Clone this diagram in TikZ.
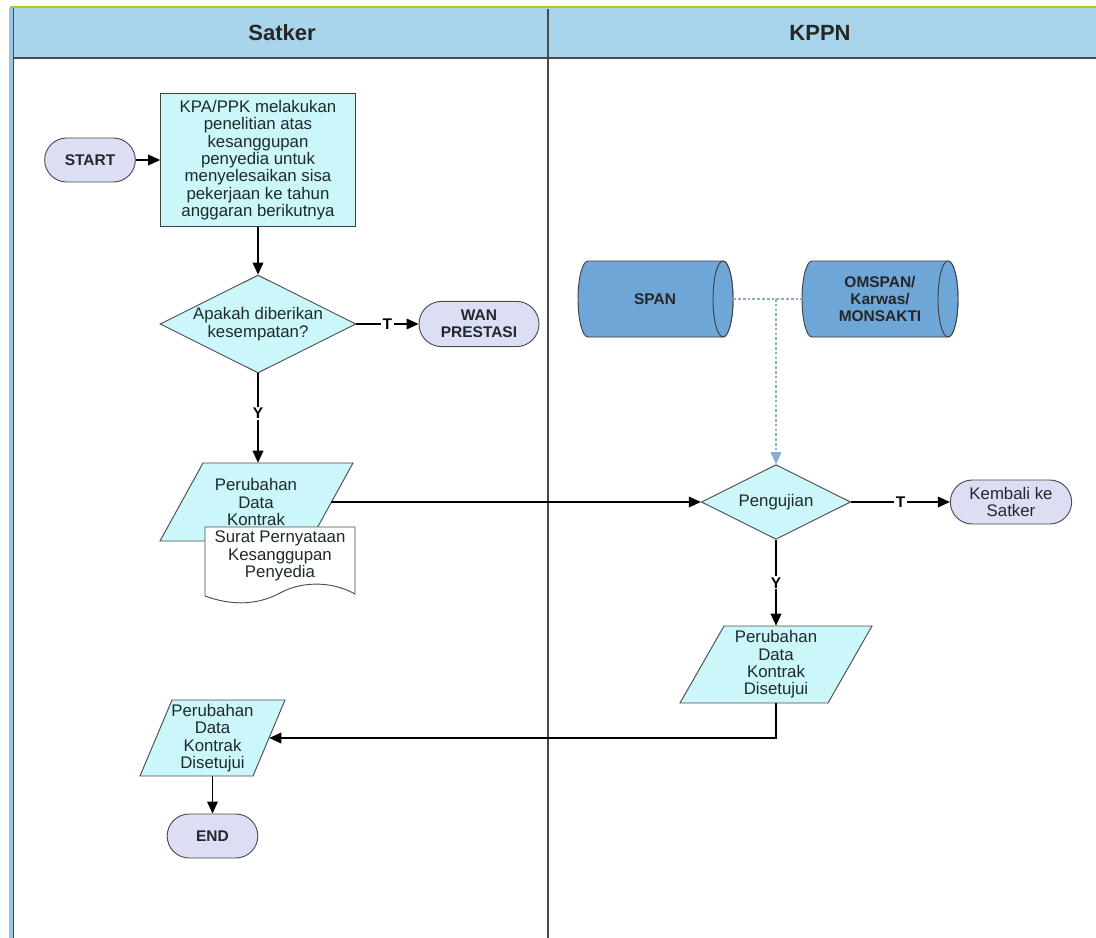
\documentclass[tikz,border=0pt]{standalone}
\usepackage{fontspec}
\setmainfont{Liberation Sans}
\usetikzlibrary{arrows.meta,shapes.geometric,shapes.misc}
\definecolor{hdr}{HTML}{A8D4EC}
\definecolor{hdrline}{HTML}{B4C81A}
\definecolor{laneline}{HTML}{4A4A4A}
\definecolor{bordblue}{HTML}{9CC4E4}
\definecolor{procfill}{HTML}{CBF7FB}
\definecolor{termfill}{HTML}{DCDEF4}
\definecolor{cylfill}{HTML}{6FA6D8}
\definecolor{dotc}{HTML}{88AED2}
\definecolor{txt}{HTML}{1E2A2A}
\newcommand\nfont{\fontsize{12.6}{13}\selectfont}
\newcommand\bfont{\fontsize{11.6}{13}\selectfont\bfseries}
\tikzset{
  every node/.style={text=txt},
  procbox/.style={draw=black!75, fill=procfill, line width=0.7pt, align=center, font=\nfont, inner sep=0pt},
  term/.style={rounded rectangle, draw=black!70, fill=termfill, line width=0.7pt, align=center, inner sep=0pt},
  decis/.style={diamond, aspect=2, draw=black!70, fill=procfill, line width=0.7pt, align=center, font=\nfont, inner sep=0pt},
  paratext/.style={rectangle, align=center, font=\nfont, inner sep=0pt},
  parashape/.style={draw=black!70, fill=procfill, line width=0.7pt},
  cylshape/.style={draw=black!75, fill=cylfill, line width=0.7pt},
  cyltext/.style={rectangle, align=center, font=\bfont, text=black!85, inner sep=0pt},
  conn/.style={draw=black, line width=1.1pt},
  arr/.style={conn, -{Triangle[length=9pt,width=8pt]}},
  lbl/.style={fill=white, inner sep=1pt, font=\bfont, text=black},
  dotl/.style={draw=dotc, line width=1.3pt, dash pattern=on 2pt off 1.6pt},
  dotarr/.style={dotl, -{Triangle[length=9pt,width=8pt]}},
}
\begin{document}
\begin{tikzpicture}[x=0.75pt,y=-0.75pt]
\useasboundingbox (0,0) rectangle (1096,938);
\fill[white] (0,0) rectangle (1096,938);
% header
\fill[hdr] (10,8) rectangle (1096,58);
\draw[hdrline, line width=2pt] (10,7) -- (1096,7);
\draw[laneline, line width=0.9pt] (10,58) -- (1096,58);
\draw[laneline, line width=0.9pt] (548,9) -- (548,938);
\draw[bordblue, line width=3pt] (11,8) -- (11,938);
\draw[laneline, line width=0.9pt] (13.5,8) -- (13.5,938);
\node[font=\fontsize{16.5}{18}\selectfont\bfseries, text=black!85] (hs) at (282,33) {Satker};
\node[font=\fontsize{16.5}{18}\selectfont\bfseries, text=black!85] (hk) at (820,33) {KPPN};

% left lane
\node[term, minimum width=68pt, minimum height=33pt, font=\bfont] (start) at (90,160) {START};
\node[procbox, minimum width=146pt, minimum height=100pt] (proc) at (258,160)
  {KPA/PPK melakukan\\penelitian atas\\kesanggupan\\penyedia untuk\\menyelesaikan sisa\\pekerjaan ke tahun\\anggaran berikutnya};
\node[decis, minimum width=142pt, minimum height=71pt] (dec1) at (258,324) {Apakah diberikan\\kesempatan?};
\node[term, minimum width=90pt, minimum height=34pt, font=\bfont] (wan) at (479,324) {WAN\\PRESTASI};
% parallelogram: Perubahan Data Kontrak
\draw[parashape] (203,463) -- (353,463) -- (310,541) -- (160,541) -- cycle;
\node[paratext, minimum width=112.5pt, minimum height=58.5pt] (pdk) at (256,502) {Perubahan\\Data\\Kontrak};
% document
\path[draw=black!70, fill=white, line width=0.7pt]
  (205,527) -- (355,527) -- (355,594)
  .. controls (330,580) and (300,582) .. (280,593)
  .. controls (258,605) and (232,606) .. (205,596) -- cycle;
\node[font=\nfont, align=center, inner sep=0pt] (doc) at (280,556) {Surat Pernyataan\\Kesanggupan\\Penyedia};
% parallelogram: left Disetujui
\draw[parashape] (172,700) -- (285,700) -- (253,776) -- (140,776) -- cycle;
\node[paratext, minimum width=84.75pt, minimum height=57pt] (pdkl) at (212.5,738) {Perubahan\\Data\\Kontrak\\Disetujui};
\node[term, minimum width=68pt, minimum height=33pt, font=\bfont] (endn) at (212.5,836) {END};

% right lane: data stores
\draw[cylshape] (588,261) -- (723,261) arc[start angle=-90, end angle=90, x radius=10, y radius=38]
  -- (588,337) arc[start angle=90, end angle=270, x radius=10, y radius=38] -- cycle;
\draw[cylshape] (723,299) ellipse [x radius=10, y radius=38];
\node[cyltext, minimum width=117pt, minimum height=57pt] (span) at (655,299) {SPAN};
\draw[cylshape] (812,261) -- (948,261) arc[start angle=-90, end angle=90, x radius=10, y radius=38]
  -- (812,337) arc[start angle=90, end angle=270, x radius=10, y radius=38] -- cycle;
\draw[cylshape] (948,299) ellipse [x radius=10, y radius=38];
\node[cyltext, minimum width=117pt, minimum height=57pt] (oms) at (880,299) {OMSPAN/\\Karwas/\\MONSAKTI};

\node[decis, minimum width=112pt, minimum height=56pt] (peng) at (776,502) {Pengujian};
\node[term, minimum width=91pt, minimum height=33pt, font=\nfont] (kemb) at (1011,502) {Kembali ke\\Satker};
\draw[parashape] (724,626) -- (872,626) -- (828,703) -- (680,703) -- cycle;
\node[paratext, minimum width=111pt, minimum height=57.75pt] (pdks) at (776,664.5) {Perubahan\\Data\\Kontrak\\Disetujui};
\coordinate (junc) at (peng.north |- span.east);

% connectors
\draw[arr] (start.east) -- (start.east -| proc.west);
\draw[arr] (proc.south) -- (dec1.north);
\draw[arr] (dec1.east) -- node[lbl] {T} (wan.west);
\draw[arr] (dec1.south) -- node[lbl, pos=0.45] {Y} (dec1.south |- pdk.north);
\draw[arr] (pdk.east) -- (peng.west);
\draw[arr] (peng.east) -- node[lbl] {T} (kemb.west);
\draw[arr] (peng.south) -- node[lbl, pos=0.5] {Y} (pdks.north);
\draw[arr] (pdks.south) |- (pdkl.east);
\draw[arr] (pdkl.south) -- (endn.north);
\draw[dotl] (span.east) -- (oms.west);
\draw[dotarr] (junc) -- (peng.north);
\end{tikzpicture}
\end{document}
